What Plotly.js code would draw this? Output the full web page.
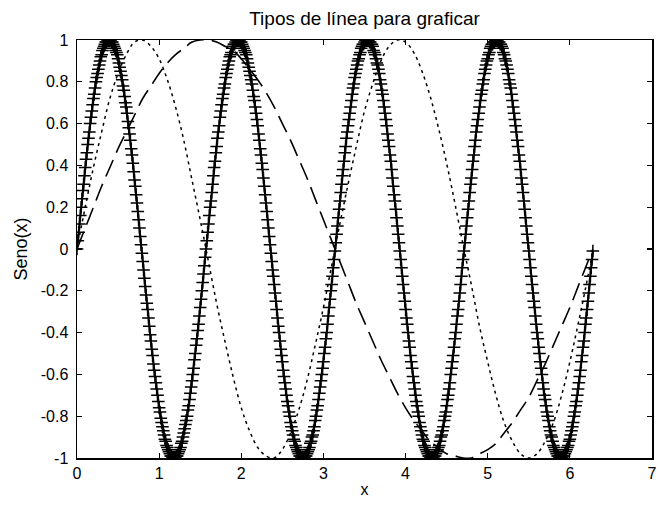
<!DOCTYPE html>
<html>
<head>
<meta charset="utf-8">
<script src="https://cdn.plot.ly/plotly-3.0.1.min.js"></script>
<style>html,body{margin:0;padding:0;background:#fff;}#chart{width:658px;height:507px;}</style>
</head>
<body>
<div id="chart"></div>
<script>
// sin(4x) sampled at x = 0 : 0.01 : 6.28 (plus markers)
var xPlus = [
0,0.01,0.02,0.03,0.04,0.05,0.06,0.07,0.08,0.09,
0.1,0.11,0.12,0.13,0.14,0.15,0.16,0.17,0.18,0.19,
0.2,0.21,0.22,0.23,0.24,0.25,0.26,0.27,0.28,0.29,
0.3,0.31,0.32,0.33,0.34,0.35,0.36,0.37,0.38,0.39,
0.4,0.41,0.42,0.43,0.44,0.45,0.46,0.47,0.48,0.49,
0.5,0.51,0.52,0.53,0.54,0.55,0.56,0.57,0.58,0.59,
0.6,0.61,0.62,0.63,0.64,0.65,0.66,0.67,0.68,0.69,
0.7,0.71,0.72,0.73,0.74,0.75,0.76,0.77,0.78,0.79,
0.8,0.81,0.82,0.83,0.84,0.85,0.86,0.87,0.88,0.89,
0.9,0.91,0.92,0.93,0.94,0.95,0.96,0.97,0.98,0.99,
1,1.01,1.02,1.03,1.04,1.05,1.06,1.07,1.08,1.09,
1.1,1.11,1.12,1.13,1.14,1.15,1.16,1.17,1.18,1.19,
1.2,1.21,1.22,1.23,1.24,1.25,1.26,1.27,1.28,1.29,
1.3,1.31,1.32,1.33,1.34,1.35,1.36,1.37,1.38,1.39,
1.4,1.41,1.42,1.43,1.44,1.45,1.46,1.47,1.48,1.49,
1.5,1.51,1.52,1.53,1.54,1.55,1.56,1.57,1.58,1.59,
1.6,1.61,1.62,1.63,1.64,1.65,1.66,1.67,1.68,1.69,
1.7,1.71,1.72,1.73,1.74,1.75,1.76,1.77,1.78,1.79,
1.8,1.81,1.82,1.83,1.84,1.85,1.86,1.87,1.88,1.89,
1.9,1.91,1.92,1.93,1.94,1.95,1.96,1.97,1.98,1.99,
2,2.01,2.02,2.03,2.04,2.05,2.06,2.07,2.08,2.09,
2.1,2.11,2.12,2.13,2.14,2.15,2.16,2.17,2.18,2.19,
2.2,2.21,2.22,2.23,2.24,2.25,2.26,2.27,2.28,2.29,
2.3,2.31,2.32,2.33,2.34,2.35,2.36,2.37,2.38,2.39,
2.4,2.41,2.42,2.43,2.44,2.45,2.46,2.47,2.48,2.49,
2.5,2.51,2.52,2.53,2.54,2.55,2.56,2.57,2.58,2.59,
2.6,2.61,2.62,2.63,2.64,2.65,2.66,2.67,2.68,2.69,
2.7,2.71,2.72,2.73,2.74,2.75,2.76,2.77,2.78,2.79,
2.8,2.81,2.82,2.83,2.84,2.85,2.86,2.87,2.88,2.89,
2.9,2.91,2.92,2.93,2.94,2.95,2.96,2.97,2.98,2.99,
3,3.01,3.02,3.03,3.04,3.05,3.06,3.07,3.08,3.09,
3.1,3.11,3.12,3.13,3.14,3.15,3.16,3.17,3.18,3.19,
3.2,3.21,3.22,3.23,3.24,3.25,3.26,3.27,3.28,3.29,
3.3,3.31,3.32,3.33,3.34,3.35,3.36,3.37,3.38,3.39,
3.4,3.41,3.42,3.43,3.44,3.45,3.46,3.47,3.48,3.49,
3.5,3.51,3.52,3.53,3.54,3.55,3.56,3.57,3.58,3.59,
3.6,3.61,3.62,3.63,3.64,3.65,3.66,3.67,3.68,3.69,
3.7,3.71,3.72,3.73,3.74,3.75,3.76,3.77,3.78,3.79,
3.8,3.81,3.82,3.83,3.84,3.85,3.86,3.87,3.88,3.89,
3.9,3.91,3.92,3.93,3.94,3.95,3.96,3.97,3.98,3.99,
4,4.01,4.02,4.03,4.04,4.05,4.06,4.07,4.08,4.09,
4.1,4.11,4.12,4.13,4.14,4.15,4.16,4.17,4.18,4.19,
4.2,4.21,4.22,4.23,4.24,4.25,4.26,4.27,4.28,4.29,
4.3,4.31,4.32,4.33,4.34,4.35,4.36,4.37,4.38,4.39,
4.4,4.41,4.42,4.43,4.44,4.45,4.46,4.47,4.48,4.49,
4.5,4.51,4.52,4.53,4.54,4.55,4.56,4.57,4.58,4.59,
4.6,4.61,4.62,4.63,4.64,4.65,4.66,4.67,4.68,4.69,
4.7,4.71,4.72,4.73,4.74,4.75,4.76,4.77,4.78,4.79,
4.8,4.81,4.82,4.83,4.84,4.85,4.86,4.87,4.88,4.89,
4.9,4.91,4.92,4.93,4.94,4.95,4.96,4.97,4.98,4.99,
5,5.01,5.02,5.03,5.04,5.05,5.06,5.07,5.08,5.09,
5.1,5.11,5.12,5.13,5.14,5.15,5.16,5.17,5.18,5.19,
5.2,5.21,5.22,5.23,5.24,5.25,5.26,5.27,5.28,5.29,
5.3,5.31,5.32,5.33,5.34,5.35,5.36,5.37,5.38,5.39,
5.4,5.41,5.42,5.43,5.44,5.45,5.46,5.47,5.48,5.49,
5.5,5.51,5.52,5.53,5.54,5.55,5.56,5.57,5.58,5.59,
5.6,5.61,5.62,5.63,5.64,5.65,5.66,5.67,5.68,5.69,
5.7,5.71,5.72,5.73,5.74,5.75,5.76,5.77,5.78,5.79,
5.8,5.81,5.82,5.83,5.84,5.85,5.86,5.87,5.88,5.89,
5.9,5.91,5.92,5.93,5.94,5.95,5.96,5.97,5.98,5.99,
6,6.01,6.02,6.03,6.04,6.05,6.06,6.07,6.08,6.09,
6.1,6.11,6.12,6.13,6.14,6.15,6.16,6.17,6.18,6.19,
6.2,6.21,6.22,6.23,6.24,6.25,6.26,6.27,6.28
];
var yPlus = [
0,0.04,0.08,0.12,0.16,0.2,0.24,0.28,0.31,0.35,
0.39,0.43,0.46,0.5,0.53,0.56,0.6,0.63,0.66,0.69,
0.72,0.74,0.77,0.8,0.82,0.84,0.86,0.88,0.9,0.92,
0.93,0.95,0.96,0.97,0.98,0.99,0.99,1,1,1,
1,1,0.99,0.99,0.98,0.97,0.96,0.95,0.94,0.93,
0.91,0.89,0.87,0.85,0.83,0.81,0.78,0.76,0.73,0.7,
0.68,0.65,0.61,0.58,0.55,0.52,0.48,0.45,0.41,0.37,
0.33,0.3,0.26,0.22,0.18,0.14,0.1,0.06,0.02,-0.02,
-0.06,-0.1,-0.14,-0.18,-0.22,-0.26,-0.29,-0.33,-0.37,-0.41,
-0.44,-0.48,-0.51,-0.55,-0.58,-0.61,-0.64,-0.67,-0.7,-0.73,
-0.76,-0.78,-0.81,-0.83,-0.85,-0.87,-0.89,-0.91,-0.92,-0.94,
-0.95,-0.96,-0.97,-0.98,-0.99,-0.99,-1,-1,-1,-1,
-1,-0.99,-0.99,-0.98,-0.97,-0.96,-0.95,-0.93,-0.92,-0.9,
-0.88,-0.86,-0.84,-0.82,-0.8,-0.77,-0.75,-0.72,-0.69,-0.66,
-0.63,-0.6,-0.57,-0.53,-0.5,-0.46,-0.43,-0.39,-0.36,-0.32,
-0.28,-0.24,-0.2,-0.16,-0.12,-0.08,-0.04,0,0.04,0.08,
0.12,0.16,0.2,0.23,0.27,0.31,0.35,0.39,0.42,0.46,
0.49,0.53,0.56,0.59,0.63,0.66,0.69,0.72,0.74,0.77,
0.79,0.82,0.84,0.86,0.88,0.9,0.92,0.93,0.94,0.96,
0.97,0.98,0.98,0.99,1,1,1,1,1,0.99,
0.99,0.98,0.97,0.96,0.95,0.94,0.93,0.91,0.89,0.87,
0.85,0.83,0.81,0.79,0.76,0.73,0.71,0.68,0.65,0.62,
0.59,0.55,0.52,0.48,0.45,0.41,0.38,0.34,0.3,0.26,
0.22,0.18,0.14,0.1,0.06,0.02,-0.02,-0.06,-0.1,-0.13,
-0.17,-0.21,-0.25,-0.29,-0.33,-0.37,-0.4,-0.44,-0.48,-0.51,
-0.54,-0.58,-0.61,-0.64,-0.67,-0.7,-0.73,-0.75,-0.78,-0.8,
-0.83,-0.85,-0.87,-0.89,-0.91,-0.92,-0.94,-0.95,-0.96,-0.97,
-0.98,-0.99,-0.99,-1,-1,-1,-1,-1,-0.99,-0.99,
-0.98,-0.97,-0.96,-0.95,-0.93,-0.92,-0.9,-0.89,-0.87,-0.85,
-0.82,-0.8,-0.77,-0.75,-0.72,-0.69,-0.66,-0.63,-0.6,-0.57,
-0.54,-0.5,-0.47,-0.43,-0.4,-0.36,-0.32,-0.28,-0.24,-0.2,
-0.17,-0.13,-0.09,-0.05,-0.01,0.03,0.07,0.11,0.15,0.19,
0.23,0.27,0.31,0.35,0.38,0.42,0.46,0.49,0.53,0.56,
0.59,0.62,0.65,0.68,0.71,0.74,0.77,0.79,0.82,0.84,
0.86,0.88,0.9,0.91,0.93,0.94,0.96,0.97,0.98,0.98,
0.99,1,1,1,1,1,0.99,0.99,0.98,0.98,
0.97,0.95,0.94,0.93,0.91,0.89,0.88,0.86,0.84,0.81,
0.79,0.76,0.74,0.71,0.68,0.65,0.62,0.59,0.55,0.52,
0.49,0.45,0.42,0.38,0.34,0.3,0.26,0.23,0.19,0.15,
0.11,0.07,0.03,-0.01,-0.05,-0.09,-0.13,-0.17,-0.21,-0.25,
-0.29,-0.33,-0.36,-0.4,-0.44,-0.47,-0.51,-0.54,-0.57,-0.61,
-0.64,-0.67,-0.7,-0.73,-0.75,-0.78,-0.8,-0.83,-0.85,-0.87,
-0.89,-0.91,-0.92,-0.94,-0.95,-0.96,-0.97,-0.98,-0.99,-0.99,
-1,-1,-1,-1,-1,-0.99,-0.99,-0.98,-0.97,-0.96,
-0.95,-0.94,-0.92,-0.9,-0.89,-0.87,-0.85,-0.82,-0.8,-0.78,
-0.75,-0.72,-0.7,-0.67,-0.64,-0.6,-0.57,-0.54,-0.51,-0.47,
-0.43,-0.4,-0.36,-0.32,-0.29,-0.25,-0.21,-0.17,-0.13,-0.09,
-0.05,-0.01,0.03,0.07,0.11,0.15,0.19,0.23,0.27,0.31,
0.34,0.38,0.42,0.45,0.49,0.52,0.56,0.59,0.62,0.65,
0.68,0.71,0.74,0.76,0.79,0.81,0.84,0.86,0.88,0.9,
0.91,0.93,0.94,0.96,0.97,0.98,0.98,0.99,0.99,1,
1,1,1,0.99,0.99,0.98,0.98,0.97,0.96,0.94,
0.93,0.91,0.9,0.88,0.86,0.84,0.81,0.79,0.77,0.74,
0.71,0.68,0.65,0.62,0.59,0.56,0.52,0.49,0.45,0.42,
0.38,0.34,0.31,0.27,0.23,0.19,0.15,0.11,0.07,0.03,
-0.01,-0.05,-0.09,-0.13,-0.17,-0.21,-0.25,-0.28,-0.32,-0.36,
-0.4,-0.43,-0.47,-0.5,-0.54,-0.57,-0.6,-0.64,-0.67,-0.7,
-0.72,-0.75,-0.78,-0.8,-0.82,-0.85,-0.87,-0.89,-0.9,-0.92,
-0.94,-0.95,-0.96,-0.97,-0.98,-0.99,-0.99,-1,-1,-1,
-1,-1,-0.99,-0.99,-0.98,-0.97,-0.96,-0.95,-0.94,-0.92,
-0.91,-0.89,-0.87,-0.85,-0.83,-0.8,-0.78,-0.75,-0.73,-0.7,
-0.67,-0.64,-0.61,-0.58,-0.54,-0.51,-0.47,-0.44,-0.4,-0.36,
-0.33,-0.29,-0.25,-0.21,-0.17,-0.13,-0.09,-0.05,-0.01
];

// Smooth curves: sin(x) dashed and sin(2x) dotted
var xLine = [0,0.1,0.2,0.3,0.4,0.5,0.6,0.7,0.8,0.9,1,1.1,1.2,1.3,1.4,1.5,1.6,1.7,1.8,1.9,
2,2.1,2.2,2.3,2.4,2.5,2.6,2.7,2.8,2.9,3,3.1,3.2,3.3,3.4,3.5,3.6,3.7,3.8,3.9,
4,4.1,4.2,4.3,4.4,4.5,4.6,4.7,4.8,4.9,5,5.1,5.2,5.3,5.4,5.5,5.6,5.7,5.8,5.9,
6,6.1,6.2,6.28];
var ySinX = [0,0.1,0.2,0.3,0.39,0.48,0.56,0.64,0.72,0.78,0.84,0.89,0.93,0.96,0.99,1,1,0.99,0.97,0.95,
0.91,0.86,0.81,0.75,0.68,0.6,0.52,0.43,0.34,0.24,0.14,0.04,-0.06,-0.16,-0.26,-0.35,-0.44,-0.53,-0.61,-0.69,
-0.76,-0.82,-0.87,-0.92,-0.95,-0.98,-0.99,-1,-1,-0.98,-0.96,-0.93,-0.88,-0.83,-0.77,-0.71,-0.63,-0.55,-0.46,-0.37,
-0.28,-0.18,-0.08,0];
var ySin2X = [0,0.2,0.39,0.56,0.72,0.84,0.93,0.99,1,0.97,0.91,0.81,0.68,0.52,0.33,0.14,-0.06,-0.26,-0.44,-0.61,
-0.76,-0.87,-0.95,-0.99,-1,-0.96,-0.88,-0.77,-0.63,-0.46,-0.28,-0.08,0.12,0.31,0.49,0.66,0.79,0.9,0.97,1,
0.99,0.94,0.85,0.73,0.58,0.41,0.22,0.02,-0.17,-0.37,-0.54,-0.7,-0.83,-0.92,-0.98,-1,-0.98,-0.92,-0.83,-0.7,
-0.54,-0.36,-0.17,-0.01];

var xTickVals = [0,1,2,3,4,5,6,7];
var xTickText = ['0','1','2','3','4','5','6','7'];
var yTickVals = [-1,-0.8,-0.6,-0.4,-0.2,0,0.2,0.4,0.6,0.8,1];
var yTickText = ['-1','-0.8','-0.6','-0.4','-0.2','0','0.2','0.4','0.6','0.8','1'];

var chartTitle = 'Tipos de línea para graficar';
var xTitle = 'x';
var yTitle = 'Seno(x)';

var FONT = '"Liberation Sans", Arial, Helvetica, sans-serif';

var traces = [
  {
    x: xPlus, y: yPlus, type: 'scatter', mode: 'lines+markers',
    line: {color: '#000', width: 2},
    marker: {symbol: 'cross-thin-open', size: 9, color: '#000', line: {color: '#000', width: 1.5}},
    hoverinfo: 'skip', showlegend: false
  },
  {
    x: xLine, y: ySinX, type: 'scatter', mode: 'lines',
    line: {color: '#000', width: 1.6, dash: '18px,8px', shape: 'spline'},
    hoverinfo: 'skip', showlegend: false
  },
  {
    x: xLine, y: ySin2X, type: 'scatter', mode: 'lines',
    line: {color: '#000', width: 1.5, dash: '3px,4px', shape: 'spline'},
    hoverinfo: 'skip', showlegend: false
  }
];

var axisCommon = {
  showgrid: false, zeroline: false, showline: true, linecolor: '#000', linewidth: 1.5,
  mirror: 'ticks', ticks: 'inside', ticklen: 5, tickwidth: 1.2, tickcolor: '#000',
  tickfont: {family: FONT, size: 16, color: '#000'}, tickmode: 'array'
};

var layout = {
  width: 658, height: 507,
  paper_bgcolor: '#fff', plot_bgcolor: '#fff',
  margin: {l: 77, r: 6, t: 40, b: 49, pad: 0},
  font: {family: FONT, color: '#000'},
  title: {text: chartTitle, font: {family: FONT, size: 19, color: '#000'},
          x: 0.5, xref: 'paper', y: 0.963, yref: 'container', yanchor: 'middle'},
  xaxis: Object.assign({}, axisCommon, {
    range: [0, 7], tickvals: xTickVals, ticktext: xTickText, ticklabelstandoff: 0,
    title: {text: xTitle, font: {family: FONT, size: 16, color: '#000'}, standoff: 3}
  }),
  yaxis: Object.assign({}, axisCommon, {
    range: [-1, 1], tickvals: yTickVals, ticktext: yTickText, ticklabelstandoff: 4,
    title: {text: yTitle, font: {family: FONT, size: 18, color: '#000'}, standoff: 8}
  }),
  showlegend: false
};

Plotly.newPlot('chart', traces, layout, {displayModeBar: false, staticPlot: true});
</script>
</body>
</html>
